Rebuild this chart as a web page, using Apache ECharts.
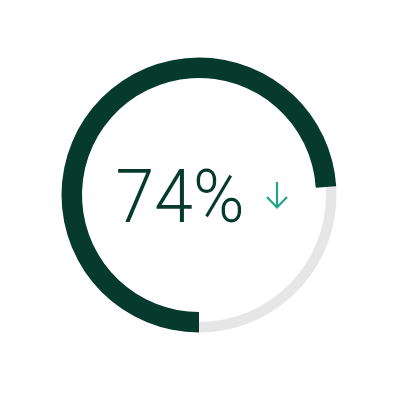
<!DOCTYPE html>
<html><head><meta charset="utf-8">
<script src="https://cdn.jsdelivr.net/npm/echarts@6/dist/echarts.min.js"></script>
<style>html,body{margin:0;padding:0;background:#fff}#c{width:400px;height:400px}</style>
</head><body><div id="c"></div>
<script>
const categories = ['Achieved', 'Remaining'];
const values = [74, 26];
const trend = ['down'];

const dark = '#053a2d';
const grey = '#e6e6e6';
const teal = '#22a486';

const chart = echarts.init(document.getElementById('c'));
chart.setOption({
  animation: false,
  series: [
    {
      type: 'pie', center: [199, 195], radius: [127, 137.5], startAngle: -90, clockwise: true,
      silent: true, label: {show: false}, labelLine: {show: false},
      data: categories.map((n, i) => ({name: n, value: values[i],
        itemStyle: {color: i === 0 ? 'rgba(0,0,0,0)' : grey}}))
    },
    {
      type: 'pie', center: [199, 195], radius: [117, 137.5], startAngle: -90, clockwise: true,
      silent: true, label: {show: false}, labelLine: {show: false},
      data: categories.map((n, i) => ({name: n, value: values[i],
        itemStyle: {color: i === 0 ? dark : 'rgba(0,0,0,0)'}}))
    }
  ],
  graphic: [
    {type: 'text', x: 180, y: 203, scaleX: 0.93, style: {text: values[0] + '%', fill: dark,
      font: '300 75px Roboto, sans-serif', textAlign: 'center', textVerticalAlign: 'middle'}},
    {type: 'polyline', shape: {points: [[277, 182], [277, 208]]}, style: {stroke: teal, lineWidth: 2.2, fill: null}},
    {type: 'polyline', shape: {points: [[267, 197], [277, 207.5], [287, 197]]}, style: {stroke: teal, lineWidth: 2.2, fill: null}}
  ]
});
</script></body></html>
